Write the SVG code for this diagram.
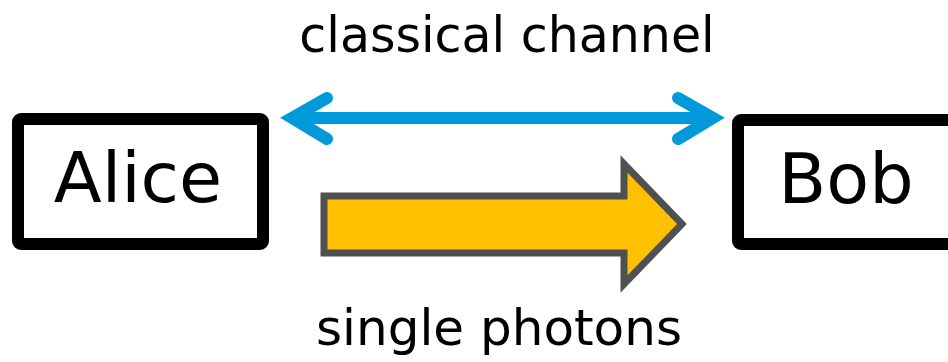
<svg xmlns="http://www.w3.org/2000/svg" width="948" height="362" viewBox="0 0 948 362">
<style>
.box{fill:#fff;stroke:#000;stroke-width:12}
.lbl{font-family:"DejaVu Sans",Verdana,sans-serif;fill:#000}
.big{font-size:70px;text-anchor:middle}
.cap{font-size:49px;text-anchor:middle}
</style>
<rect width="948" height="362" fill="#fff"/>
<g id="alice">
<rect class="box" x="18" y="119" width="245" height="125" rx="3"/>
<text class="lbl big" x="138" y="202">Alice</text>
</g>
<g id="bob">
<rect class="box" x="738" y="120" width="218" height="124" rx="3"/>
<text class="lbl big" x="846" y="203">Bob</text>
</g>
<g id="connectors">
<g id="classical-channel" fill="none" stroke="#009ADA" stroke-width="12" stroke-linecap="round" stroke-linejoin="miter">
<line x1="292" y1="118" x2="713" y2="118" stroke-linecap="butt"/>
<polyline points="327,98 292,118 327,139"/>
<polyline points="678,98 713,118 678,139"/>
</g>
<polygon id="single-photons" points="324,196 624,196 624,164 682,224 624,284 624,253 324,253" fill="#FFC000" stroke="#505050" stroke-width="7" stroke-linejoin="miter"/>
</g>
<text class="lbl cap" x="507" y="52">classical channel</text>
<text class="lbl cap" x="499" y="345" style="font-size:50px">single photons</text>
</svg>
